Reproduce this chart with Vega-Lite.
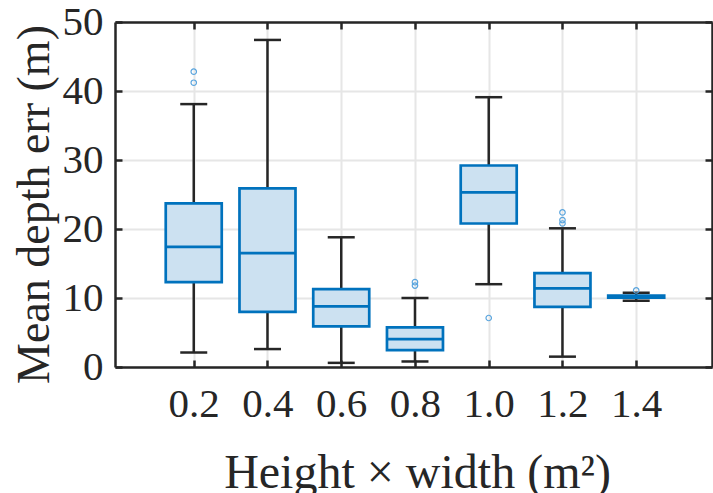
{
  "$schema": "https://vega.github.io/schema/vega-lite/v6.json",
  "width": 597,
  "height": 345,
  "autosize": "none",
  "padding": {"left": 115, "top": 22, "right": 1, "bottom": 126},
  "background": "white",
  "config": {"view": {"stroke": null}, "font": "Liberation Serif", "axis": {"labelFont": "Liberation Serif", "titleFont": "Liberation Serif"}},
  "datasets": {
    "boxes": [
      {"area": 0.2, "lower": 2.1, "q1": 12.3, "median": 17.4, "q3": 23.7, "upper": 38.1},
      {"area": 0.4, "lower": 2.6, "q1": 8.0, "median": 16.5, "q3": 25.9, "upper": 47.4},
      {"area": 0.6, "lower": 0.6, "q1": 5.9, "median": 8.8, "q3": 11.3, "upper": 18.8},
      {"area": 0.8, "lower": 0.8, "q1": 2.45, "median": 4.05, "q3": 5.75, "upper": 10.0},
      {"area": 1.0, "lower": 12.0, "q1": 20.8, "median": 25.3, "q3": 29.2, "upper": 39.1},
      {"area": 1.2, "lower": 1.5, "q1": 8.7, "median": 11.4, "q3": 13.6, "upper": 20.1},
      {"area": 1.4, "lower": 9.6, "q1": 10.05, "median": 10.2, "q3": 10.35, "upper": 10.75}
    ],
    "outliers": [
      {"area": 0.2, "value": 42.8},
      {"area": 0.2, "value": 41.2},
      {"area": 0.8, "value": 12.3},
      {"area": 0.8, "value": 11.8},
      {"area": 1.0, "value": 7.1},
      {"area": 1.2, "value": 22.4},
      {"area": 1.2, "value": 21.3},
      {"area": 1.2, "value": 20.8},
      {"area": 1.4, "value": 11.1}
    ]
  },
  "resolve": {"axis": {"x": "independent", "y": "independent"}},
  "layer": [
    {
      "data": {"name": "boxes"},
      "mark": {"type": "rule", "color": "#262626", "strokeWidth": 2.5},
      "encoding": {
        "x": {
          "field": "area", "type": "quantitative",
          "scale": {"domain": [0, 1.592], "nice": false, "zero": false},
          "axis": {
            "orient": "bottom",
            "values": [0.2, 0.4, 0.6, 0.8, 1.0, 1.2, 1.4],
            "format": ".1f",
            "title": "Height × width (m²)",
            "titleFontSize": 48, "titleFontWeight": "normal", "titleColor": "#262626",
            "titleX": 302, "titleY": 120, "titleBaseline": "alphabetic", "titleAlign": "center",
            "labelFontSize": 41, "labelColor": "#262626", "labelFlush": false,
            "labelBaseline": "alphabetic", "labelPadding": 56,
            "tickSize": -7, "tickWidth": 2.5, "tickColor": "#262626",
            "domainColor": "#262626", "domainWidth": 2.5,
            "grid": true, "gridColor": "#e6e6e6", "gridWidth": 2
          }
        },
        "y": {
          "field": "lower", "type": "quantitative",
          "scale": {"domain": [0, 50], "nice": false},
          "axis": {
            "orient": "left",
            "values": [0, 10, 20, 30, 40, 50],
            "title": "Mean depth err (m)",
            "titleFontSize": 46, "titleFontWeight": "normal", "titleColor": "#262626",
            "titleX": -67, "titleY": 182, "titleAngle": 270, "titleBaseline": "alphabetic", "titleAlign": "center",
            "labelFontSize": 41, "labelColor": "#262626", "labelFlush": false,
            "labelPadding": 19,
            "tickSize": -7, "tickWidth": 2.5, "tickColor": "#262626",
            "domainColor": "#262626", "domainWidth": 2.5,
            "grid": true, "gridColor": "#e6e6e6", "gridWidth": 2
          }
        },
        "y2": {"field": "upper"}
      }
    },
    {
      "data": {"name": "boxes"},
      "mark": {"type": "tick", "orient": "horizontal", "size": 27, "thickness": 2.5, "color": "#262626", "opacity": 1},
      "encoding": {
        "x": {
          "field": "area", "type": "quantitative",
          "axis": {
            "orient": "top", "values": [0.2, 0.4, 0.6, 0.8, 1.0, 1.2, 1.4],
            "labels": false, "title": null, "grid": false,
            "tickSize": -7, "tickWidth": 2.5, "tickColor": "#262626",
            "domainColor": "#262626", "domainWidth": 2.5
          }
        },
        "y": {
          "field": "upper", "type": "quantitative",
          "axis": {
            "orient": "right", "values": [0, 10, 20, 30, 40, 50],
            "labels": false, "title": null, "grid": false,
            "tickSize": -7, "tickWidth": 2.5, "tickColor": "#262626",
            "domainColor": "#262626", "domainWidth": 2.5
          }
        }
      }
    },
    {
      "data": {"name": "boxes"},
      "mark": {"type": "tick", "orient": "horizontal", "size": 27, "thickness": 2.5, "color": "#262626", "opacity": 1},
      "encoding": {
        "x": {"field": "area", "type": "quantitative", "axis": null},
        "y": {"field": "lower", "type": "quantitative", "axis": null}
      }
    },
    {
      "data": {"name": "boxes"},
      "mark": {"type": "bar", "size": 56, "fill": "#cce1f1", "stroke": "#0072bd", "strokeWidth": 2.7, "opacity": 1},
      "encoding": {
        "x": {"field": "area", "type": "quantitative", "axis": null},
        "y": {"field": "q1", "type": "quantitative", "axis": null},
        "y2": {"field": "q3"}
      }
    },
    {
      "data": {"name": "boxes"},
      "mark": {"type": "tick", "orient": "horizontal", "size": 56, "thickness": 2.7, "color": "#0072bd", "opacity": 1},
      "encoding": {
        "x": {"field": "area", "type": "quantitative", "axis": null},
        "y": {"field": "median", "type": "quantitative", "axis": null}
      }
    },
    {
      "data": {"name": "outliers"},
      "mark": {"type": "point", "shape": "circle", "filled": false, "size": 30, "stroke": "#5aa5de", "strokeWidth": 1.2, "opacity": 1},
      "encoding": {
        "x": {"field": "area", "type": "quantitative", "axis": null},
        "y": {"field": "value", "type": "quantitative", "axis": null}
      }
    }
  ]
}
